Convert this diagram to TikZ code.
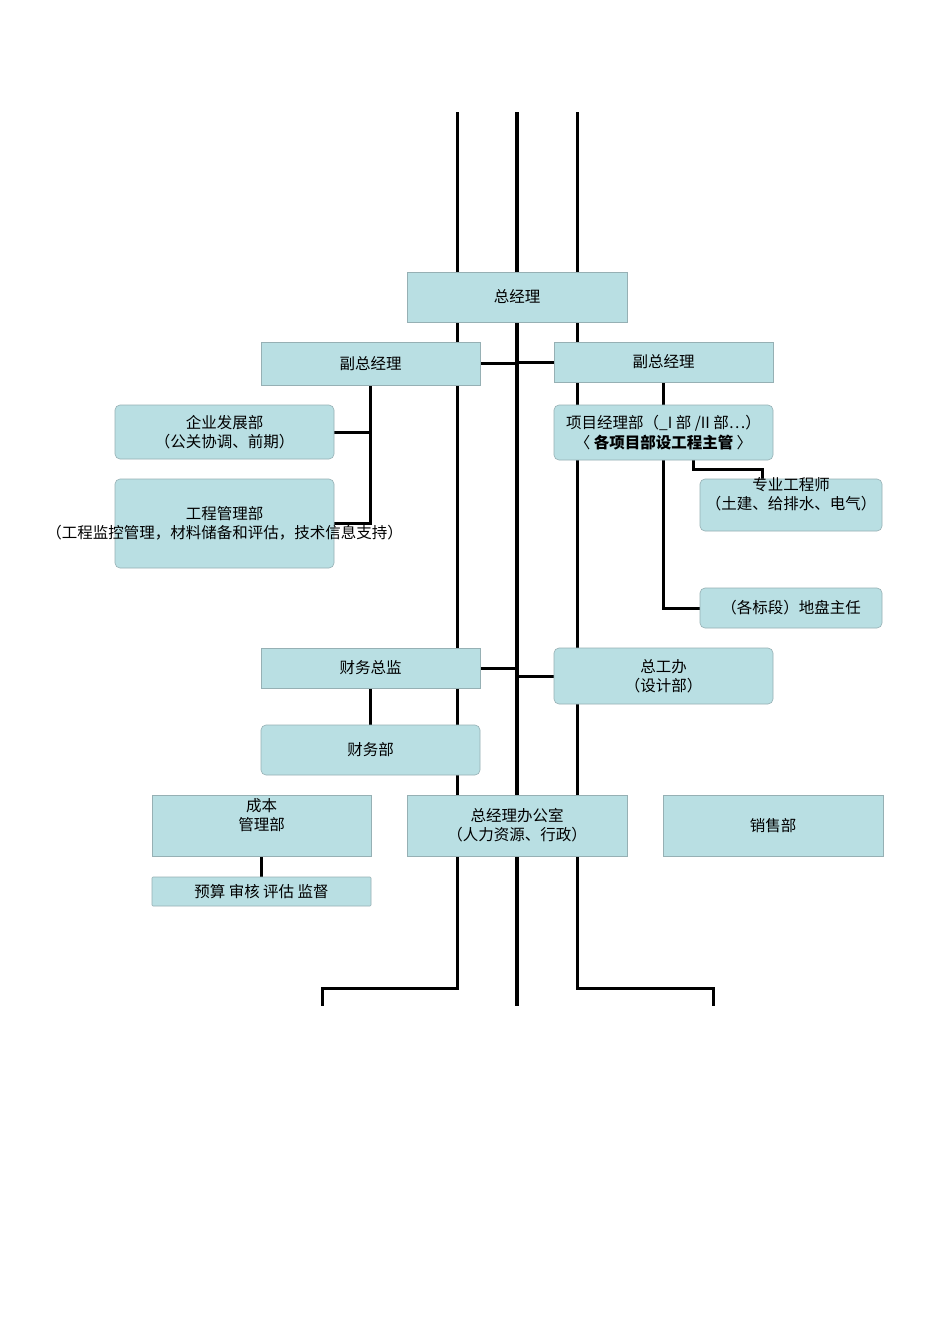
\documentclass[tikz,border=0pt]{standalone}
\usepackage{fontspec}
\setmainfont{Noto Sans CJK SC}
\usetikzlibrary{backgrounds}
\definecolor{boxfill}{RGB}{185,223,227}
\definecolor{boxline}{RGB}{150,176,180}
\begin{document}
\begin{tikzpicture}[x=1pt, y=-1pt,
        every node/.style={font=\fontsize{15.5}{19}\selectfont, align=center, inner sep=0pt},
        box/.style={draw=boxline, fill=boxfill, line width=0.6pt},
        roundbox/.style={box, rounded corners=5pt},
        trunk/.style={line width=3pt},
        conn/.style={line width=3pt}]
        \useasboundingbox (0,0) rectangle (950,1344);

        \node[box, minimum width=220pt, minimum height=50pt] (gm) at (517,297) {总经理};
        \node[box, minimum width=219pt, minimum height=43pt] (vpl) at (370.5,363.5) {副总经理};
        \node[box, minimum width=219pt, minimum height=40pt] (vpr) at (663.5,362) {副总经理};
        \node[roundbox, minimum width=219pt, minimum height=54pt] (dev) at (224.5,432) {企业发展部\\（公关协调、前期）};
        \node[roundbox, minimum width=219pt, minimum height=89pt] (eng) at (224.5,523.5) {工程管理部\\\makebox[0pt][c]{（工程监控管理，材料储备和评估，技术信息支持）}};
        \node[roundbox, minimum width=219pt, minimum height=55pt] (pm) at (663.5,432.5) {项目经理部（\_I 部 /II 部…）\\[1pt]〈 {\bfseries 各项目部设工程主管} 〉};
        \node[roundbox, minimum width=182pt, minimum height=52pt] (spec) at (791,505) {};
        \node (spectext) at (791,494) {专业工程师\\（土建、给排水、电气）};
        \node[roundbox, minimum width=182pt, minimum height=40pt] (site) at (791,608) {（各标段）地盘主任};
        \node[box, minimum width=219pt, minimum height=40pt] (cfo) at (370.5,668) {财务总监};
        \node[roundbox, minimum width=219pt, minimum height=56pt] (chief) at (663.5,676) {总工办\\（设计部）};
        \node[roundbox, minimum width=219pt, minimum height=50pt] (fin) at (370.5,750) {财务部};
        \node[box, minimum width=219pt, minimum height=61pt] (cost) at (261.5,825.5) {};
        \node (costtext) at (261.5,815) {成本\\管理部};
        \node[box, minimum width=220pt, minimum height=61pt] (office) at (517,825.5) {总经理办公室\\（人力资源、行政）};
        \node[box, minimum width=220pt, minimum height=61pt] (sales) at (773,825.5) {销售部};
        \node[box, rounded corners=1pt, minimum width=219pt, minimum height=29pt] (budget) at (261.5,891.5) {预算 审核 评估 监督};

        \coordinate (lefttop) at (457,112);
        \coordinate (leftfoot) at (457,988);
        \coordinate (leftend) at (322,1006);
        \coordinate (mid) at (517,112);
        \coordinate (midend) at (517,1006);
        \coordinate (righttop) at (577,112);
        \coordinate (rightfoot) at (577,988);
        \coordinate (rightend) at (713,1006);

        \begin{scope}[on background layer]
            \fill[white] (0,0) rectangle (950,1344);
            \draw[trunk] (lefttop) -- (leftfoot) -| (leftend);
            \draw[trunk, line width=3.4pt] (mid) -- (midend);
            \draw[trunk] (righttop) -- (rightfoot) -| (rightend);

            \draw[conn] (vpl.east) -- (vpl.east -| mid);
            \draw[conn] (vpr.west) -- (vpr.west -| mid);
            \draw[conn] (vpl.south) -- (vpl.south |- eng.east) -- (eng.east);
            \draw[conn] (dev.east) -- (dev.east -| vpl.south);
            \draw[conn] (vpr.south) -- (pm.north);
            \draw[conn] (pm.south) |- (site.west);
            \draw[conn] ([xshift=30pt]pm.south) -- ++(0,9) -| ([xshift=-29pt]spec.north);
            \draw[conn] (cfo.east) -- (cfo.east -| mid);
            \draw[conn] (chief.west) -- (chief.west -| mid);
            \draw[conn] (cfo.south) -- (fin.north);
            \draw[conn] (cost.south) -- (budget.north);
        \end{scope}
    \end{tikzpicture}
\end{document}
